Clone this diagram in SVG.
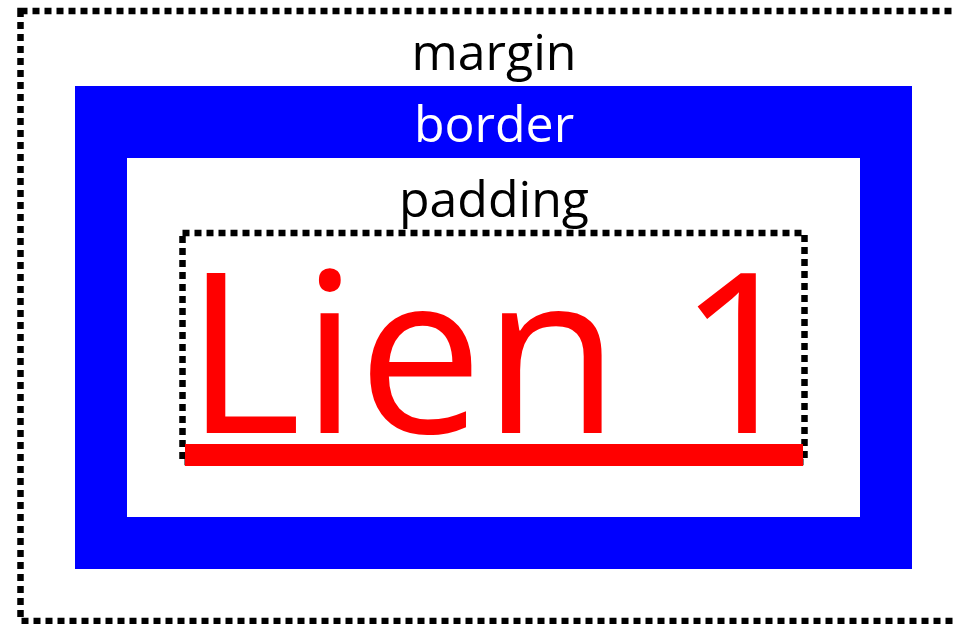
<svg xmlns="http://www.w3.org/2000/svg" width="954" height="624" viewBox="0 0 954 624">
  <style>
    .dotted { fill: none; stroke: #000; stroke-width: 6.5; stroke-dasharray: 7 5; }
    .label { font-family: "Open Sans", "Noto Sans", sans-serif; font-size: 50px; text-anchor: middle; }
  </style>
  <rect width="954" height="624" fill="#fff"/>
  <g id="margin">
    <rect class="dotted" x="20.5" y="11" width="947" height="610"/>
    <text class="label" x="494" y="70" fill="#000">margin</text>
  </g>
  <g id="border">
    <rect x="75" y="86" width="837" height="483" fill="#0000ff"/>
    <rect x="127" y="158" width="733" height="359" fill="#fff"/>
    <text class="label" x="494" y="142" fill="#fff">border</text>
  </g>
  <g id="padding">
    <text class="label" x="494" y="217" fill="#000">padding</text>
  </g>
  <g id="content">
    <rect class="dotted" x="182.5" y="233" width="622" height="229"/>
    <text x="185" y="432.5" font-family="'Open Sans', 'Noto Sans', sans-serif" font-size="223" fill="#ff0000">Lien 1</text>
    <rect x="185" y="444" width="618" height="22" fill="#ff0000"/>
  </g>
</svg>
